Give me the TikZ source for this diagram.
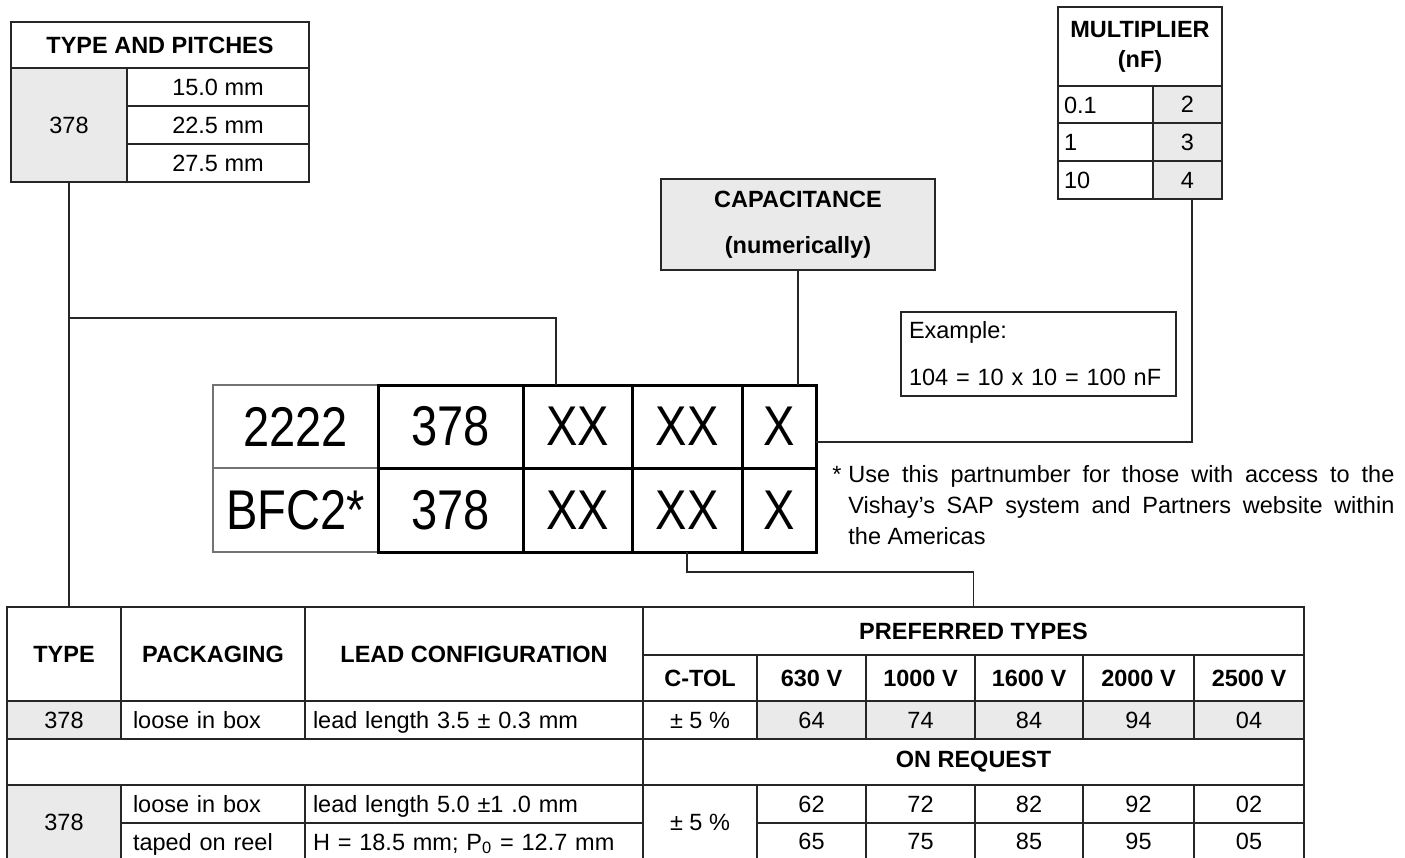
\documentclass[tikz,border=0pt]{standalone}
\usepackage{fontspec}
\setmainfont{Liberation Sans}
\newfontfamily\codefont[FakeStretch=0.84]{Liberation Sans}

\definecolor{cellgray}{RGB}{234,234,234}

\tikzset{
  cell/.style={draw=black!85, line width=0.7pt, inner sep=0pt, outer sep=0pt,
    font=\fontsize{11.75}{15}\selectfont},
  head/.style={font=\bfseries\fontsize{11.75}{15}\selectfont, align=center},
  shaded/.style={fill=cellgray},
  oneline/.style={text height=8.5pt, text depth=0pt},
  multiline/.style={text height={}, text depth={}},
  code/.style={draw=black, line width=1.5pt, font=\codefont\fontsize{28}{30}\selectfont},
  codelead/.style={code, draw=black!55, line width=0.7pt},
  wire/.style={draw=black!85, line width=0.7pt}
}

% cell from (x1,y1) to (x2,y2), in pixels of the sheet
\newcommand\boxcell[7][]{%
  \node[cell,minimum width={(#5-#3)*0.5pt},minimum height={(#6-#4)*0.5pt},#1]
    (#2) at ({(#3+#5)/2},{(#4+#6)/2}) {#7};}
% same, text set flush left with a margin
\newcommand\boxlcell[8][]{%
  \pgfmathsetmacro\cellw{(#5-#3-2*#7)*0.5}%
  \node[cell,oneline,align=left,text width=\cellw pt,
    minimum width={(#5-#3)*0.5pt},minimum height={(#6-#4)*0.5pt},#1]
    (#2) at ({(#3+#5)/2},{(#4+#6)/2}) {#8};}

\begin{document}
\begin{tikzpicture}[x=0.5pt,y=-0.5pt]
  \useasboundingbox (0,0) rectangle (1405,858);

  % type and pitches
  \boxcell[head]{tpHead}{11}{22}{309}{68}{TYPE AND PITCHES}
  \boxcell[shaded]{tpType}{11}{68}{127}{182}{378}
  \boxcell{tpPitchA}{127}{68}{309}{106}{15.0 mm}
  \boxcell{tpPitchB}{127}{106}{309}{144}{22.5 mm}
  \boxcell{tpPitchC}{127}{144}{309}{182}{27.5 mm}

  % multiplier
  \boxcell[head]{mulHead}{1058}{7}{1222}{86}{MULTIPLIER\\(nF)}
  \boxlcell{mulValA}{1058}{86}{1153}{123}{6}{0.1}
  \boxlcell{mulValB}{1058}{123}{1153}{161}{6}{1}
  \boxlcell{mulValC}{1058}{161}{1153}{199}{6}{10}
  \boxcell[shaded]{mulCodeA}{1153}{86}{1222}{123}{2}
  \boxcell[shaded]{mulCodeB}{1153}{123}{1222}{161}{3}
  \boxcell[shaded]{mulCodeC}{1153}{161}{1222}{199}{4}

  % capacitance
  \boxcell[head,shaded]{cap}{661}{179}{935}{270}{CAPACITANCE\\[8pt](numerically)}
  \boxlcell[multiline]{example}{901}{312}{1176}{396}{8}{Example:\\[8.5pt]104 = 10 x 10 = 100 nF}

  % part number
  \boxcell[codelead]{cdA1}{213}{385}{378}{468}{2222}
  \boxcell[codelead]{cdA2}{213}{468}{378}{552}{BFC2*}
  \boxcell[code]{cdB1}{378}{385}{523}{468}{378}
  \boxcell[code]{cdB2}{378}{468}{523}{552}{378}
  \boxcell[code]{cdC1}{523}{385}{632}{468}{XX}
  \boxcell[code]{cdC2}{523}{468}{632}{552}{XX}
  \boxcell[code]{cdD1}{632}{385}{742}{468}{XX}
  \boxcell[code]{cdD2}{632}{468}{742}{552}{XX}
  \boxcell[code]{cdE1}{742}{385}{816}{468}{X}
  \boxcell[code]{cdE2}{742}{468}{816}{552}{X}

  \node[anchor=base east,inner sep=0pt,font=\fontsize{11.75}{15.5}\selectfont]
    (noteStar) at (842,482) {*};
  \node[anchor=base west,inner sep=0pt,font=\fontsize{11.75}{15.5}\selectfont]
    (note) at (848,482) {\parbox[t]{273pt}{Use this partnumber for those with access to the\linebreak
      Vishay's SAP system and Partners website within\linebreak the Americas}};

  % ordering table
  \boxcell[head]{botType}{7}{607}{121}{701}{TYPE}
  \boxcell[head]{botPack}{121}{607}{305}{701}{PACKAGING}
  \boxcell[head]{botLead}{305}{607}{643}{701}{LEAD CONFIGURATION}
  \boxcell[head]{prefHead}{643}{607}{1304}{655}{PREFERRED TYPES}
  \boxcell[head]{tolHead}{643}{655}{757}{701}{C-TOL}

  \boxcell[shaded]{rowAType}{7}{701}{121}{739}{378}
  \boxlcell{rowAPack}{121}{701}{305}{739}{12}{loose in box}
  \boxlcell{rowALead}{305}{701}{643}{739}{8}{lead length 3.5 ± 0.3 mm}
  \boxcell{rowATol}{643}{701}{757}{739}{± 5 \%}

  \boxcell{gap}{7}{739}{643}{785}{}
  \boxcell[head]{reqHead}{643}{739}{1304}{785}{ON REQUEST}

  \boxcell[shaded]{rowBType}{7}{785}{121}{860}{378}
  \boxlcell{rowBPackA}{121}{785}{305}{823}{12}{loose in box}
  \boxlcell{rowBPackB}{121}{823}{305}{860}{12}{taped on reel}
  \boxlcell{rowBLeadA}{305}{785}{643}{823}{8}{lead length 5.0 ±1 .0 mm}
  \boxlcell{rowBLeadB}{305}{823}{643}{860}{8}{H = 18.5 mm; P\textsubscript{0} = 12.7 mm}
  \boxcell{rowBTol}{643}{785}{757}{860}{± 5 \%}

  \foreach \xa/\xb/\volt/\pref/\reqA/\reqB [count=\i] in
    {757/866/630/64/62/65, 866/975/1000/74/72/75, 975/1083/1600/84/82/85,
     1083/1194/2000/94/92/95, 1194/1304/2500/04/02/05}{
    \boxcell[head]{volt\i}{\xa}{655}{\xb}{701}{\volt\ V}
    \boxcell[shaded]{pref\i}{\xa}{701}{\xb}{739}{\pref}
    \boxcell{reqA\i}{\xa}{785}{\xb}{823}{\reqA}
    \boxcell{reqB\i}{\xa}{823}{\xb}{860}{\reqB}
  }

  % connecting lines
  \coordinate (typeTap) at (556,318);
  \coordinate (mulTap) at (1192,442);
  \draw[wire] (tpType.south) -- (tpType.south |- botType.north);
  \draw[wire] (tpType.south |- typeTap) -| (typeTap |- cdC1.north);
  \draw[wire] (cap.south) -- (cap.south |- cdE1.north);
  \draw[wire] (mulCodeC.south -| mulTap) |- (mulTap -| cdE1.east);
  \draw[wire] (cdD2.south) -- ++(0,20) -| (prefHead.north);
\end{tikzpicture}
\end{document}
